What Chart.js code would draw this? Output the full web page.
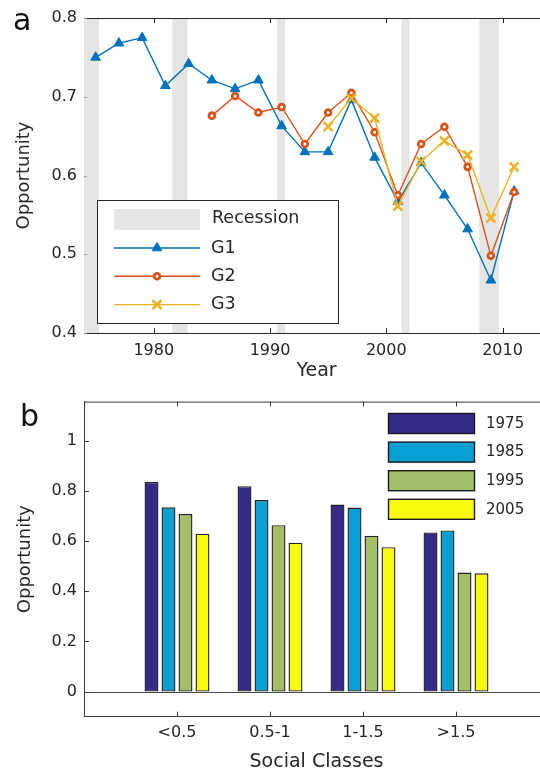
<!DOCTYPE html>
<html>
<head>
<meta charset="utf-8">
<script src="https://cdn.jsdelivr.net/npm/chart.js@4.4.0/dist/chart.umd.min.js"></script>
<style>
html,body{margin:0;padding:0;background:#fff;overflow:hidden}
#wrap{position:relative;width:540px;height:773px;overflow:hidden}
canvas{position:absolute;left:0}
#cA{top:0}
#cB{top:385px}
</style>
</head>
<body>
<div id="wrap">
  <canvas id="cA" width="560" height="385"></canvas>
  <canvas id="cB" width="560" height="388"></canvas>
</div>
<script>
// ---- data: panel a
const years = [1975,1977,1979,1981,1983,1985,1987,1989,1991,1993,1995,1997,1999,2001,2003,2005,2007,2009,2011];
const g1 = [0.750,0.768,0.775,0.714,0.742,0.721,0.710,0.721,0.663,0.630,0.630,0.696,0.623,0.567,0.616,0.575,0.532,0.467,0.580];
const g2 = [null,null,null,null,null,0.676,0.701,0.680,0.687,0.640,0.680,0.705,0.655,0.575,0.640,0.662,0.611,0.498,0.579];
const g3 = [null,null,null,null,null,null,null,null,null,null,0.662,0.698,0.673,0.561,0.618,0.644,0.626,0.546,0.611];
const recStart = [1974.0,1981.6,1990.6,2001.3,2008.0];
const recEnd   = [1975.3,1982.9,1991.3,2002.0,2009.7];
const yearTicks = [1980,1990,2000,2010];
const oppTicksA = [0.4,0.5,0.6,0.7,0.8];

// ---- data: panel b
const classes = ['<0.5','0.5-1','1-1.5','>1.5'];
const cohorts = ['1975','1985','1995','2005'];
const v1975 = [0.835,0.818,0.745,0.634];
const v1985 = [0.734,0.763,0.733,0.642];
const v1995 = [0.707,0.663,0.621,0.474];
const v2005 = [0.629,0.593,0.575,0.471];
const oppTicksB = [0,0.2,0.4,0.6,0.8,1];

const FONT = '"DejaVu Sans", sans-serif';
const INK = '#262626';
const REC = '#e5e5e5';
const barColors = ['#352a87','#079fd1','#a5be6a','#f9fb0e'];

const pts = vals => years.map((x,i)=>({x, y: vals[i]}));
const tickFont = {family:FONT, size:16};

// inward tick marks + box top line, MATLAB style
function drawFrame(chart, o){
  const {ctx, chartArea:a, scales:{x,y}} = chart;
  ctx.save();
  ctx.lineWidth = 1; ctx.strokeStyle = o.color;
  ctx.beginPath();
  ctx.moveTo(a.left, a.top+0.5); ctx.lineTo(a.right, a.top+0.5);
  ctx.moveTo(a.right-0.5, a.top); ctx.lineTo(a.right-0.5, a.bottom);
  x.ticks.forEach((t,i)=>{
    if (o.skipX && o.skipX(i)) return;
    const px = Math.round(x.getPixelForTick(i))+0.5;
    ctx.moveTo(px, a.top); ctx.lineTo(px, a.top+o.len);
    ctx.moveTo(px, a.bottom); ctx.lineTo(px, a.bottom-o.len);
  });
  ctx.stroke();
  ctx.strokeStyle = o.yColor || o.color;
  ctx.beginPath();
  y.ticks.forEach((t,i)=>{
    const py = Math.round(y.getPixelForTick(i))+0.5;
    ctx.moveTo(a.left, py); ctx.lineTo(a.left+o.ylen, py);
  });
  ctx.stroke();
  ctx.restore();
}

// ================= panel a
const bandsPlugin = {
  id:'bands',
  beforeDatasetsDraw(chart){
    const {ctx, chartArea:a, scales:{x}} = chart;
    ctx.save(); ctx.fillStyle = REC;
    recStart.forEach((s,i)=>{
      const x0 = Math.max(x.getPixelForValue(s), a.left), x1 = x.getPixelForValue(recEnd[i]);
      ctx.fillRect(x0, a.top, x1-x0, a.bottom-a.top);
    });
    ctx.restore();
  },
  afterDatasetsDraw(chart){
    drawFrame(chart, {color:INK, yColor:'#9a9a9a', len:5, ylen:3});
  },
  afterDraw(chart){
    const ctx = chart.ctx;
    ctx.save();
    // panel letter
    ctx.font = '30px '+FONT; ctx.fillStyle = '#111'; ctx.textBaseline = 'alphabetic';
    ctx.fillText('a', 13, 30);
    // legend box
    ctx.fillStyle = '#fff'; ctx.fillRect(97,200,242,124);
    ctx.strokeStyle = INK; ctx.lineWidth = 1; ctx.strokeRect(97.5,200.5,241,123);
    ctx.fillStyle = REC; ctx.fillRect(114,209,86,21);
    ctx.font = '17.5px '+FONT; ctx.fillStyle = INK; ctx.textBaseline = 'middle';
    ctx.fillText('Recession', 212, 218);
    chart.data.datasets.forEach((ds,i)=>{
      const yy = 248 + i*28.3;
      ctx.strokeStyle = ds.borderColor; ctx.lineWidth = ds.borderWidth;
      ctx.beginPath(); ctx.moveTo(114,yy); ctx.lineTo(200,yy); ctx.stroke();
      ctx.fillStyle = ds.pointBackgroundColor; ctx.strokeStyle = ds.pointBorderColor; ctx.lineWidth = ds.pointBorderWidth;
      Chart.helpers.drawPoint(ctx, {pointStyle:ds.pointStyle, radius:ds.pointRadius, borderWidth:ds.pointBorderWidth, rotation:0}, 157, yy);
      ctx.fillStyle = INK;
      ctx.fillText(ds.label, 211, yy);
    });
    ctx.restore();
  }
};

new Chart(document.getElementById('cA'), {
  type:'line',
  data:{datasets:[
    {label:'G1', data:pts(g1), borderColor:'#0072BD', borderWidth:1.4, pointStyle:'triangle', pointRadius:5.6,
     pointBackgroundColor:'#0072BD', pointBorderColor:'#0072BD', pointBorderWidth:1, order:3},
    {label:'G2', data:pts(g2), borderColor:'#D95319', borderWidth:1.4, pointStyle:'circle', pointRadius:2.9,
     pointBackgroundColor:'#ffffff', pointBorderColor:'#D95319', pointBorderWidth:2.8, order:2},
    {label:'G3', data:pts(g3), borderColor:'#EDB120', borderWidth:1.4, pointStyle:'crossRot', pointRadius:6.3,
     pointBackgroundColor:'#EDB120', pointBorderColor:'#EDB120', pointBorderWidth:2.5, order:1}
  ]},
  options:{
    responsive:false, animation:false, devicePixelRatio:1,
    layout:{padding:{left:0, top:18, right:11, bottom:0}},
    elements:{line:{tension:0}},
    plugins:{legend:{display:false}, tooltip:{enabled:false}},
    scales:{
      x:{type:'linear', min:1974, max:2014,
        afterBuildTicks:s=>{ s.ticks = yearTicks.map(v=>({value:v})); },
        afterFit:s=>{ s.height = 52; },
        grid:{display:false, drawTicks:false},
        border:{display:true, color:INK, width:1},
        ticks:{font:tickFont, color:INK, padding:8, maxRotation:0, autoSkip:false, callback:v=>String(v)},
        title:{display:true, text:'Year', color:INK, font:{family:FONT, size:19, lineHeight:1}, padding:{top:0, bottom:4}}
      },
      y:{min:0.4, max:0.8,
        afterBuildTicks:s=>{ s.ticks = oppTicksA.map(v=>({value:v})); },
        afterFit:s=>{ s.width = 84; },
        grid:{display:false, drawTicks:false},
        border:{display:true, color:'#8f8f8f', width:1},
        ticks:{font:tickFont, color:INK, padding:7, callback:v=>v.toFixed(1)},
        title:{display:true, text:'Opportunity', color:INK, font:{family:FONT, size:18, lineHeight:1}, padding:{top:15, bottom:0}}
      }
    }
  },
  plugins:[bandsPlugin]
});

// ================= panel b
const barPlugin = {
  id:'barFrame',
  afterDatasetsDraw(chart){
    const {ctx, chartArea:a, scales:{x,y}} = chart;
    const labels = chart.data.labels;
    ctx.save();
    ctx.strokeStyle = '#4a4a4a'; ctx.lineWidth = 1;
    const p0 = Math.round(y.getPixelForValue(0))+0.5;
    ctx.beginPath(); ctx.moveTo(a.left, p0); ctx.lineTo(a.right, p0); ctx.stroke();
    ctx.restore();
    drawFrame(chart, {color:'#3a3a3a', len:5, ylen:5, skipX:i=>!labels[i]});
  },
  afterDraw(chart){
    const ctx = chart.ctx;
    ctx.save();
    ctx.font = '30px '+FONT; ctx.fillStyle = '#111'; ctx.textBaseline = 'alphabetic';
    ctx.fillText('b', 20, 41);
    // legend, no box
    ctx.font = '15px '+FONT; ctx.textBaseline = 'middle';
    chart.data.datasets.forEach((ds,i)=>{
      const top = 28.5 + i*28.6;
      ctx.fillStyle = ds.backgroundColor; ctx.fillRect(388.5, top, 86, 20);
      ctx.strokeStyle = '#1a1a1a'; ctx.lineWidth = 1.4; ctx.strokeRect(388.5, top, 86, 20);
      ctx.fillStyle = INK; ctx.fillText(ds.label, 486, top+10.5);
    });
    ctx.restore();
  }
};

const withEdges = vals => [null, ...vals, null];

new Chart(document.getElementById('cB'), {
  type:'bar',
  data:{
    labels:['', ...classes, ''],
    datasets:[v1975, v1985, v1995, v2005].map((vals,i)=>({
      label:cohorts[i], data:withEdges(vals), backgroundColor:barColors[i],
      borderColor:'#222222', borderWidth:1.4, borderSkipped:false,
      categoryPercentage:0.731, barPercentage:0.82
    }))
  },
  options:{
    responsive:false, animation:false, devicePixelRatio:1,
    layout:{padding:{left:0, top:16, right:11, bottom:0}},
    plugins:{legend:{display:false}, tooltip:{enabled:false}},
    scales:{
      x:{type:'category', offset:false,
        afterFit:s=>{ s.height = 56.3; },
        grid:{display:false, drawTicks:false},
        border:{display:true, color:'#3a3a3a', width:1},
        ticks:{font:tickFont, color:INK, padding:7, maxRotation:0, autoSkip:false},
        title:{display:true, text:'Social Classes', color:INK, font:{family:FONT, size:19, lineHeight:1}, padding:{top:0, bottom:1}}
      },
      y:{min:-0.1, max:1.155,
        afterBuildTicks:s=>{ s.ticks = oppTicksB.map(v=>({value:v})); },
        afterFit:s=>{ s.width = 84; },
        grid:{display:false, drawTicks:false},
        border:{display:true, color:'#3a3a3a', width:1},
        ticks:{font:tickFont, color:INK, padding:7, callback:v=>String(Math.round(v*10)/10)},
        title:{display:true, text:'Opportunity', color:INK, font:{family:FONT, size:18, lineHeight:1}, padding:{top:16, bottom:0}}
      }
    }
  },
  plugins:[barPlugin]
});
</script>
</body>
</html>
